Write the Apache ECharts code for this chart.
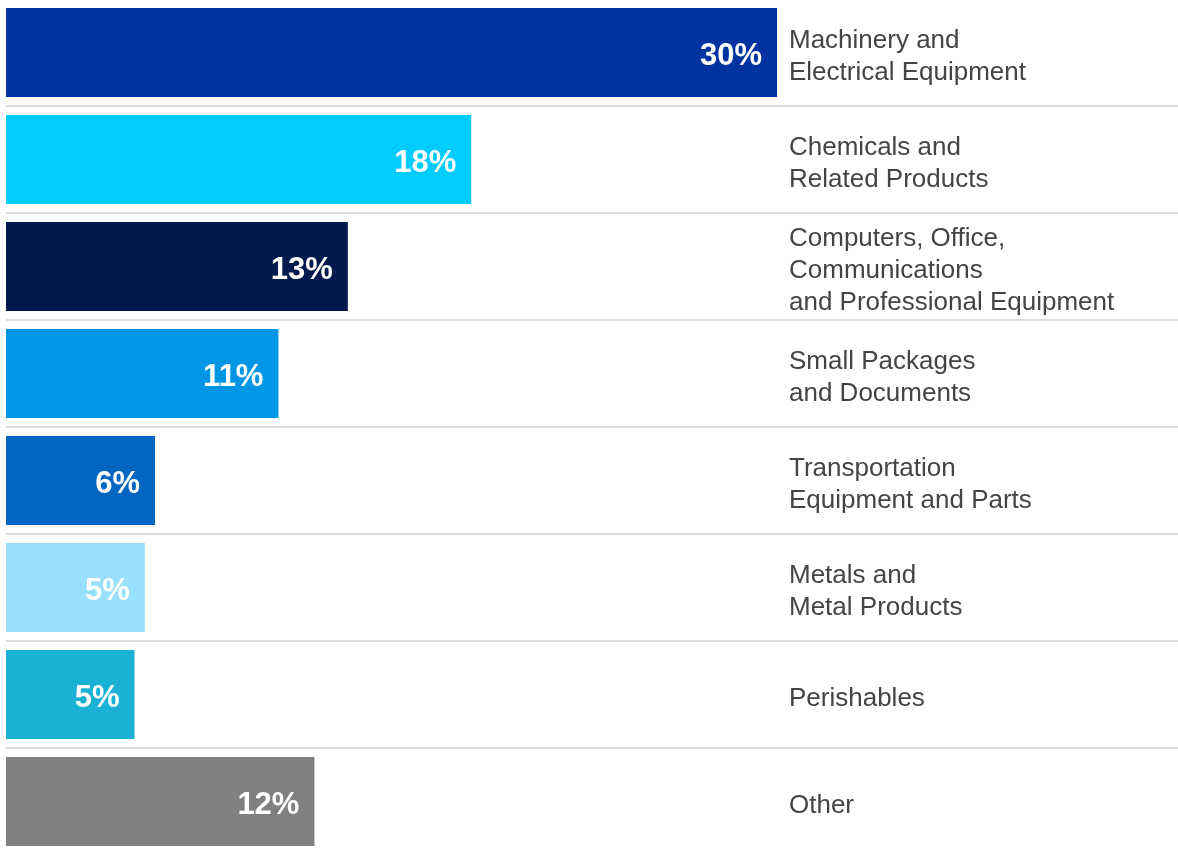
<!DOCTYPE html>
<html>
<head>
<meta charset="utf-8">
<script src="https://cdn.jsdelivr.net/npm/echarts@6/dist/echarts.min.js"></script>
<style>
html,body{margin:0;padding:0;background:#fff;}
#chart{width:1178px;height:851px;}
</style>
</head>
<body>
<div id="chart"></div>
<script>
const categories = [
  'Machinery and\nElectrical Equipment',
  'Chemicals and\nRelated Products',
  'Computers, Office,\nCommunications\nand Professional Equipment',
  'Small Packages\nand Documents',
  'Transportation\nEquipment and Parts',
  'Metals and\nMetal Products',
  'Perishables',
  'Other'
];
const values = [30.0, 18.1, 13.3, 10.6, 5.8, 5.4, 5.0, 12.0];
const valueLabels = ['30%', '18%', '13%', '11%', '6%', '5%', '5%', '12%'];
const colors = ['#0033A0', '#00CCFF', '#001A4E', '#0096E6', '#0066C1', '#99DFFF', '#1AB1D5', '#808080'];

const FONT = '"Liberation Sans", Arial, sans-serif';
const chart = echarts.init(document.getElementById('chart'));
chart.setOption({
  animation: false,
  backgroundColor: '#ffffff',
  textStyle: { fontFamily: FONT },
  grid: { left: 6, right: 0, top: -1, bottom: -4, containLabel: false, outerBoundsMode: 'none' },
  xAxis: {
    type: 'value', min: 0, max: 45.6, show: false
  },
  yAxis: {
    type: 'category',
    data: categories,
    inverse: true,
    position: 'right',
    axisLine: { show: false },
    axisTick: { show: false },
    splitLine: { show: true, interval: 0, lineStyle: { color: '#dddddd', width: 2 } },
    axisLabel: {
      margin: -389,
      align: 'left',
      fontSize: 26,
      lineHeight: 32,
      color: '#444444',
      fontFamily: FONT,
      interval: 0,
      formatter: v => '{s| }\n' + v.split('\n').map(l => '{t|' + l + '}').join('\n'),
      rich: {
        s: { fontSize: 1, lineHeight: 8 },
        t: { fontSize: 26, lineHeight: 32, color: '#444444', fontFamily: FONT }
      }
    }
  },
  series: [{
    type: 'bar',
    data: values.map((v, i) => ({ value: v, itemStyle: { color: colors[i] } })),
    barWidth: 89,
    label: {
      show: true,
      position: 'insideRight',
      distance: 15,
      offset: [0, 4],
      color: '#ffffff',
      fontWeight: 'bold',
      fontSize: 31,
      fontFamily: FONT,
      formatter: p => valueLabels[p.dataIndex]
    }
  }]
});
</script>
</body>
</html>
